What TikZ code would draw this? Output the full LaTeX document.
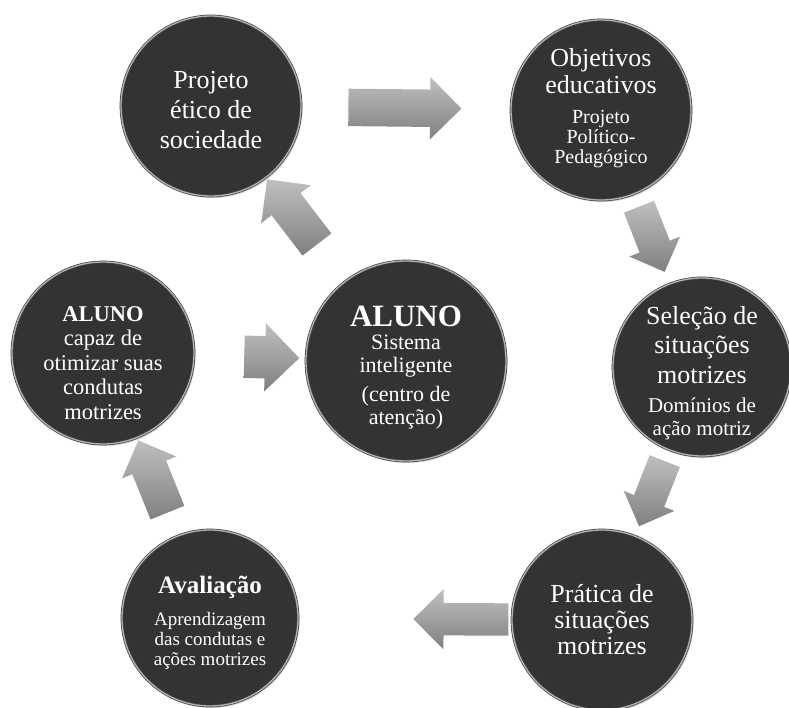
\documentclass[tikz,border=0pt]{standalone}
\usepackage{fontspec}
\setmainfont{Liberation Serif}
\usetikzlibrary{shapes.arrows,shadows}
\newcommand{\tam}[2]{\fontsize{#1}{#2}\selectfont}

\begin{document}
\begin{tikzpicture}[x=1pt,y=1pt,
    ball/.style={circle,minimum size=180pt,inner sep=0pt,
      fill=black!80,draw=black!75,line width=0.7pt,double=black!30,double distance=1.3pt,
      drop shadow={opacity=0.3,shadow xshift=1.5pt,shadow yshift=-2pt}},
    txt/.style={text=white,text width=125pt,align=flush center,inner sep=0pt},
    flow/.style={single arrow,sloped,allow upside down,inner xsep=0pt,
      top color=black!25,bottom color=black!50,draw=none}]
  \useasboundingbox (0,0) rectangle (789,707);
  \fill[white] (0,0) rectangle (789,707);
  % Circulos do ciclo
  \node[ball] (etico) at (211,601) {};
  \node[ball] (objetivos) at (601,597) {};
  \node[ball,minimum size=178pt] (selecao) at (702,340) {};
  \node[ball] (pratica) at (602,87) {};
  \node[ball,minimum size=176pt] (avaliacao) at (210,89) {};
  \node[ball,minimum size=182pt] (capaz) at (103,354) {};
  \node[ball,minimum size=200pt] (centro) at (406,346) {};
  % Textos
  \node[txt,font=\tam{26}{30}] (etico-t) at ([yshift=-4pt]etico.center) {Projeto\\ético de\\sociedade\par};
  \node[txt,font=\tam{26}{27}] (objetivos-t) at ([yshift=2pt]objetivos.center)
    {Objetivos\\educativos\par\vspace{10pt}\tam{20}{20}Projeto\\Político-\\Pedagógico\par};
  \node[txt,font=\tam{26}{29.5}] (selecao-t) at ([yshift=-6pt]selecao.center)
    {Seleção de\\situações\\motrizes\par\vspace{6pt}\tam{21}{23}Domínios de\\ação motriz\par};
  \node[txt,font=\tam{26}{26}] (pratica-t) at (pratica.center) {Prática de\\situações\\motrizes\par};
  \node[txt,font=\tam{25}{27}] (avaliacao-t) at ([yshift=-5pt]avaliacao.center)
    {\textbf{Avaliação}\par\vspace{12pt}\tam{19}{20}Aprendizagem\\das condutas e\\ações motrizes\par};
  \node[txt,font=\tam{22.5}{24.5}] (capaz-t) at ([yshift=-10pt]capaz.center)
    {\textbf{ALUNO}\\capaz de\\otimizar suas\\condutas\\motrizes\par};
  \node[txt,font=\tam{22}{23}] (centro-t) at ([yshift=-7pt]centro.center)
    {\tam{31}{33}\textbf{ALUNO}\par\tam{22}{23}Sistema\\inteligente\par\vspace{6pt}(centro de\\atenção)\par};
  % Setas entre os circulos
  \path (etico) -- (objetivos) node[flow,pos=0.45,minimum height=113pt,inner ysep=18.5pt,single arrow head extend=12.5pt] (s1) {};
  \path (objetivos) -- (selecao) node[flow,pos=0.42,minimum height=70pt,inner ysep=16pt,single arrow head extend=11pt] (s2) {};
  \path (selecao) -- (pratica) node[flow,pos=0.42,minimum height=70pt,inner ysep=16pt,single arrow head extend=11pt] (s3) {};
  \path (pratica) -- (avaliacao) node[flow,pos=0.2,minimum height=95pt,inner ysep=16pt,single arrow head extend=14pt] (s4) {};
  \path (avaliacao) -- (capaz) node[flow,pos=0.52,minimum height=78pt,inner ysep=18pt,single arrow head extend=11pt] (s5) {};
  \path (capaz) -- (centro) node[flow,pos=0.6,minimum height=55pt,inner ysep=21pt,single arrow head extend=13pt] (s6) {};
  \path (centro) -- (etico) node[flow,pos=0.6,minimum height=82pt,inner ysep=18pt,single arrow head extend=13pt] (s7) {};
\end{tikzpicture}
\end{document}
